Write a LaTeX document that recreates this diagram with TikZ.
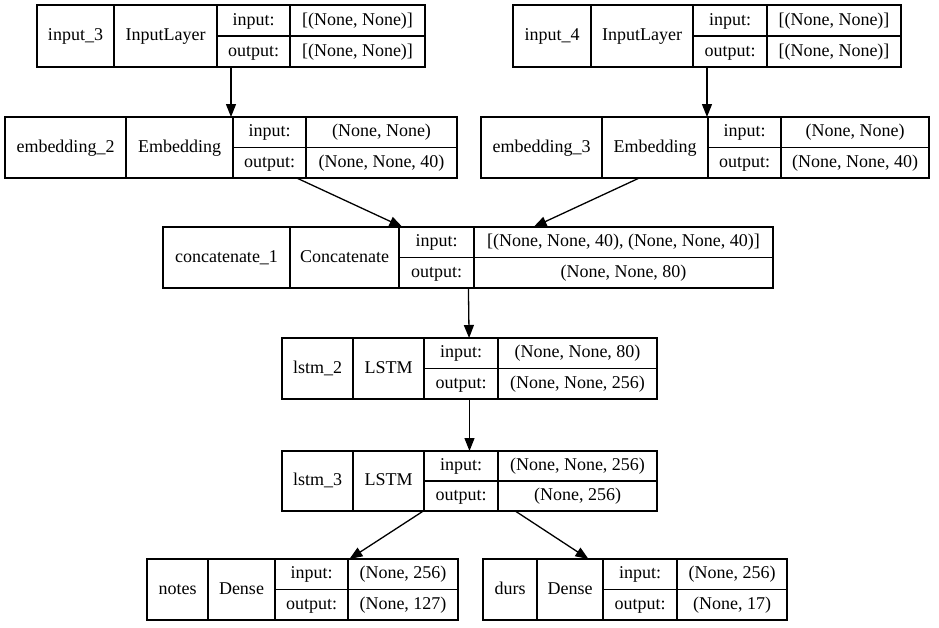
\documentclass[tikz,border=0pt]{standalone}
\usepackage{fontspec}
\setmainfont{Liberation Serif}
\usetikzlibrary{fit,arrows.meta}
\tikzset{
  layerbox/.style={draw, line width=1.3pt, inner sep=0pt, outer sep=0pt},
  cellline/.style={line width=1.3pt},
  celltext/.style={inner sep=0pt, font=\fontsize{18}{22}\selectfont, text height=12.6pt, text depth=3.6pt},
  edge/.style={line width=1.3pt, -{Triangle[length=13pt,width=10pt]}},
}
\def\getxs#1,#2,#3,#4,#5\relax{\def\xA{#1}\def\xB{#2}\def\xC{#3}\def\xD{#4}\def\xE{#5}}
\def\getys#1,#2\relax{\def\yT{#1}\def\yB{#2}}
\newcommand\layer[7]{%
  \getxs#2\relax \getys#3\relax
  \pgfmathsetmacro\yM{(\yT+\yB)/2}%
  \node[layerbox, fit={(\xA,\yT) (\xE,\yB)}] (#1) {};
  \draw[cellline] (\xB,\yT) -- (\xB,\yB) (\xC,\yT) -- (\xC,\yB) (\xD,\yT) -- (\xD,\yB)
     (\xC,\yM) -- (\xE,\yM);
  \node[celltext] (#1-n) at ({(\xA+\xB)/2},\yM) {#4};
  \node[celltext] (#1-c) at ({(\xB+\xC)/2},\yM) {#5};
  \node[celltext] (#1-i) at ({(\xC+\xD)/2},{(\yT+\yM)/2}) {input:};
  \node[celltext] (#1-o) at ({(\xC+\xD)/2},{(\yM+\yB)/2}) {output:};
  \node[celltext] (#1-iv) at ({(\xD+\xE)/2},{(\yT+\yM)/2}) {#6};
  \node[celltext] (#1-ov) at ({(\xD+\xE)/2},{(\yM+\yB)/2}) {#7};
}
\begin{document}
\begin{tikzpicture}[x=1pt,y=-1pt]
\fill[white] (0,0) rectangle (939,627);
\useasboundingbox (0,0) rectangle (939,627);
\layer{in3}{37,114,217,290,425}{5,67}{input\_3}{InputLayer}{[(None, None)]}{[(None, None)]}
\layer{in4}{513,591,693,767,901}{5,67}{input\_4}{InputLayer}{[(None, None)]}{[(None, None)]}
\layer{emb2}{5,126,233,306,457}{117,178}{embedding\_2}{Embedding}{(None, None)}{(None, None, 40)}
\layer{emb3}{481,602,708,781,929}{117,178}{embedding\_3}{Embedding}{(None, None)}{(None, None, 40)}
\layer{cat}{163,290,399,474,773}{227,288}{concatenate\_1}{Concatenate}{[(None, None, 40), (None, None, 40)]}{(None, None, 80)}
\layer{lstm2}{282,353,424,498,657}{338,399}{lstm\_2}{LSTM}{(None, None, 80)}{(None, None, 256)}
\layer{lstm3}{282,353,424,498,657}{451,511}{lstm\_3}{LSTM}{(None, None, 256)}{(None, 256)}
\layer{notes}{147,208,275,348,458}{559,620}{notes}{Dense}{(None, 256)}{(None, 127)}
\layer{durs}{483,537,603,677,787}{559,620}{durs}{Dense}{(None, 256)}{(None, 17)}
\draw[edge] (in3) -- (emb2);
\draw[edge] (in4.south) -- (in4.south |- emb3.north);
\draw[edge] (emb2) -- (cat);
\draw[edge] (emb3) -- (cat);
\draw[edge] (cat) -- (lstm2);
\draw[edge] (lstm2) -- (lstm3);
\draw[edge] (lstm3) -- (notes);
\draw[edge] (lstm3) -- (durs);
\end{tikzpicture}
\end{document}
